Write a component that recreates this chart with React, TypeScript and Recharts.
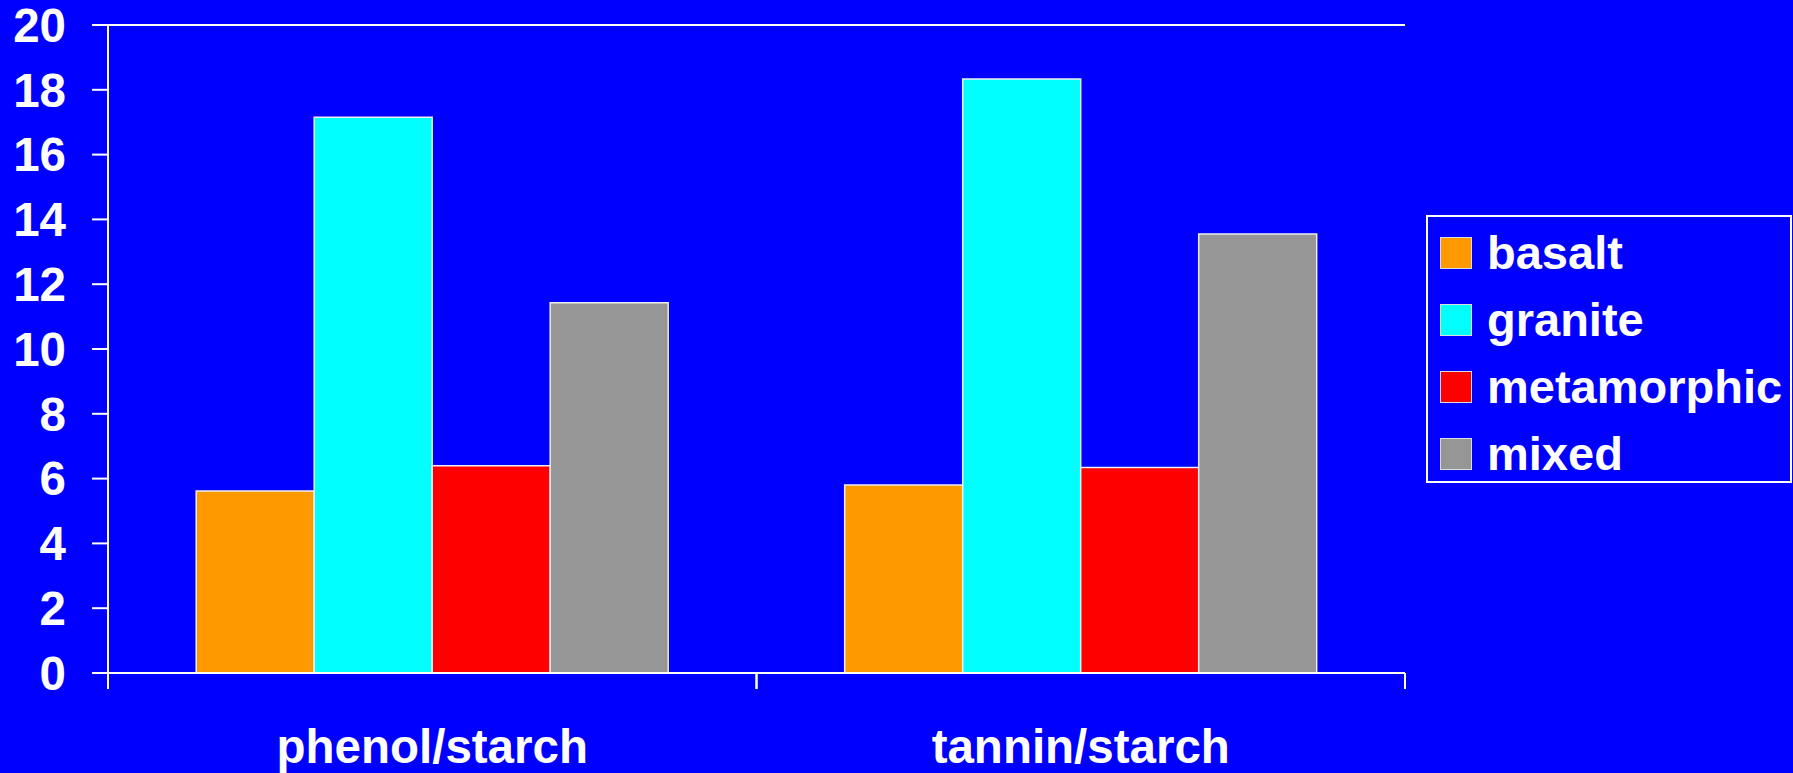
import { Bar, BarChart, CartesianGrid, XAxis, YAxis } from "recharts"

const CATEGORIES = ["phenol/starch", "tannin/starch"]
const BASALT = [5.62, 5.8]
const GRANITE = [17.15, 18.33]
const METAMORPHIC = [6.4, 6.34]
const MIXED = [11.43, 13.55]
const Y_TICKS = [0, 2, 4, 6, 8, 10, 12, 14, 16, 18, 20]

const SERIES = [
  { key: "basalt", values: BASALT, color: "#FF9900" },
  { key: "granite", values: GRANITE, color: "#00FFFF" },
  { key: "metamorphic", values: METAMORPHIC, color: "#FF0000" },
  { key: "mixed", values: MIXED, color: "#969696" },
]

const BG = "#0000FF"
const FONT = '"Liberation Sans", Arial, Helvetica, sans-serif'
const LINE = "#ffffff"
const TICK_TEXT = { fill: "#ffffff", fontSize: 47.5, fontWeight: 700, fontFamily: FONT }

const rows = CATEGORIES.map((name, i) => {
  const row: Record<string, string | number> = { name }
  SERIES.forEach((s) => {
    row[s.key] = s.values[i]
  })
  return row
})

/** Etiqueta de categoría + marcas en los límites de cada banda (estilo Excel). */
function CategoryTick(props: any) {
  const { x, y, payload } = props
  const half = typeof payload?.offset === "number" ? payload.offset : 0
  return (
    <g>
      <line x1={x - half} x2={x - half} y1={y - 16} y2={y} stroke={LINE} strokeWidth={2} />
      <line x1={x + half} x2={x + half} y1={y - 16} y2={y} stroke={LINE} strokeWidth={2} />
      <text x={x} y={y + 74} textAnchor="middle" {...TICK_TEXT}>
        {payload.value}
      </text>
    </g>
  )
}

function LegendBox() {
  return (
    <div
      style={{
        position: "absolute",
        left: 1426,
        top: 215,
        width: 366,
        height: 268,
        boxSizing: "border-box",
        border: `2px solid ${LINE}`,
        paddingTop: 2,
        fontFamily: FONT,
        fontWeight: 700,
        fontSize: 47,
        color: "#ffffff",
      }}
    >
      {SERIES.map((s) => (
        <div
          key={s.key}
          style={{ height: 67, display: "flex", alignItems: "center" }}
        >
          <span
            style={{
              width: 32,
              height: 32,
              boxSizing: "border-box",
              marginLeft: 12,
              marginRight: 15,
              background: s.color,
              border: "1.5px solid #dddddd",
              flex: "none",
            }}
          />
          <span style={{ lineHeight: 1 }}>{s.key}</span>
        </div>
      ))}
    </div>
  )
}

export default function App() {
  return (
    <div style={{ position: "relative", width: 1793, height: 773, background: BG }}>
      <style>{"body{margin:0;background:#0000FF}"}</style>
      <BarChart
        width={1793}
        height={773}
        data={rows}
        margin={{ top: 25, right: 388, bottom: 0, left: 0 }}
        barCategoryGap="13.6%"
        barGap={0}
      >
        <CartesianGrid vertical={false} stroke={LINE} strokeWidth={2} />
        <XAxis
          dataKey="name"
          height={100}
          tickSize={16}
          tickMargin={0}
          tickLine={false}
          axisLine={{ stroke: LINE, strokeWidth: 2 }}
          tick={<CategoryTick />}
          interval={0}
        />
        <YAxis
          yAxisId="left"
          width={108}
          domain={[0, 20]}
          ticks={Y_TICKS}
          interval={0}
          tickSize={16}
          tickMargin={26}
          tickLine={{ stroke: LINE, strokeWidth: 2 }}
          axisLine={{ stroke: LINE, strokeWidth: 2 }}
          tick={TICK_TEXT}
        />
        <YAxis
          yAxisId="right"
          orientation="right"
          width={0}
          domain={[0, 20]}
          tick={false}
          tickLine={false}
          axisLine={{ stroke: LINE, strokeWidth: 2 }}
        />
        {SERIES.map((s) => (
          <Bar
            key={s.key}
            yAxisId="left"
            dataKey={s.key}
            fill={s.color}
            stroke="#eeeeee"
            strokeWidth={1.5}
            isAnimationActive={false}
          />
        ))}
      </BarChart>
      <LegendBox />
    </div>
  )
}
